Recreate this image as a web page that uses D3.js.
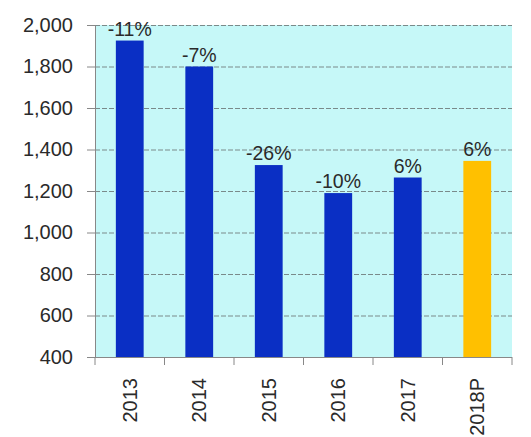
<!DOCTYPE html>
<html>
<head>
<meta charset="utf-8">
<script src="https://cdn.jsdelivr.net/npm/d3@7"></script>
<style>
  body { margin: 0; background: #fff; }
  text { font-family: Arial, "Liberation Sans", sans-serif; fill: #2a2a2a; }
</style>
</head>
<body>
<div id="chart"></div>
<script>
var width = 531;
var height = 437;

var years = ["2013", "2014", "2015", "2016", "2017", "2018P"];
var values = [1925, 1800, 1325, 1190, 1265, 1345];
var changes = ["-11%", "-7%", "-26%", "-10%", "6%", "6%"];
var yTicks = [400, 600, 800, 1000, 1200, 1400, 1600, 1800, 2000];

var margin = {top: 25, right: 19, bottom: 80, left: 95};
var plotW = width - margin.left - margin.right;
var plotH = height - margin.top - margin.bottom;

var svg = d3.select("#chart").append("svg")
    .attr("width", width)
    .attr("height", height);

var g = svg.append("g")
    .attr("transform", "translate(" + margin.left + "," + margin.top + ")");

var x = d3.scaleBand().domain(years).range([0, plotW]).paddingInner(0.6).paddingOuter(0.3);
var xb = d3.scaleBand().domain(years).range([0, plotW]);
var y = d3.scaleLinear().domain([400, 2000]).range([plotH, 0]);

// plot background
g.append("rect")
    .attr("width", plotW)
    .attr("height", plotH)
    .attr("fill", "#c6f8f8");

// gridlines
g.selectAll(".grid")
    .data(yTicks.slice(1))
    .enter().append("line")
    .attr("x1", 0)
    .attr("x2", plotW)
    .attr("y1", function(d) { return y(d) + 0.5; })
    .attr("y2", function(d) { return y(d) + 0.5; })
    .attr("stroke", "#7a8a8a")
    .attr("stroke-width", 1)
    .attr("stroke-dasharray", "5,2");

// bars
g.selectAll(".bar")
    .data(values)
    .enter().append("rect")
    .attr("x", function(d, i) { return x(years[i]); })
    .attr("width", x.bandwidth())
    .attr("y", function(d) { return y(d); })
    .attr("height", function(d) { return plotH - y(d); })
    .attr("fill", function(d, i) { return years[i] === "2018P" ? "#ffc000" : "#0a2fc4"; });

// change labels
g.selectAll(".lbl")
    .data(values)
    .enter().append("text")
    .attr("x", function(d, i) { return x(years[i]) + x.bandwidth() / 2; })
    .attr("y", function(d) { return y(d) - 5; })
    .attr("text-anchor", "middle")
    .attr("font-size", 19.5)
    .text(function(d, i) { return changes[i]; });

// y axis
var yAxis = g.append("g")
    .call(d3.axisLeft(y).tickValues(yTicks).tickSize(8).tickSizeOuter(0).tickFormat(d3.format(",")));
yAxis.select(".domain").attr("stroke", "#888");
yAxis.selectAll(".tick line").attr("stroke", "#888");
yAxis.selectAll(".tick text")
    .attr("font-size", 20)
    .attr("x", -22)
    .style("font-family", "Arial, 'Liberation Sans', sans-serif")
    .attr("fill", "#2a2a2a");

// x axis
var xAxisG = g.append("g").attr("transform", "translate(0," + plotH + ")");
xAxisG.append("line")
    .attr("x1", 0).attr("x2", plotW)
    .attr("y1", 0.5).attr("y2", 0.5)
    .attr("stroke", "#888");
xAxisG.selectAll(".xtick")
    .data(years.concat(["end"]))
    .enter().append("line")
    .attr("x1", function(d, i) { return i < years.length ? xb(d) : plotW; })
    .attr("x2", function(d, i) { return i < years.length ? xb(d) : plotW; })
    .attr("y1", 0)
    .attr("y2", 8)
    .attr("stroke", "#888");
xAxisG.selectAll(".xlbl")
    .data(years)
    .enter().append("text")
    .attr("transform", function(d) {
        return "translate(" + (xb(d) + xb.bandwidth() / 2 + 7) + ",21) rotate(-90)";
    })
    .attr("text-anchor", "end")
    .attr("font-size", 20)
    .text(function(d) { return d; });
</script>
</body>
</html>
